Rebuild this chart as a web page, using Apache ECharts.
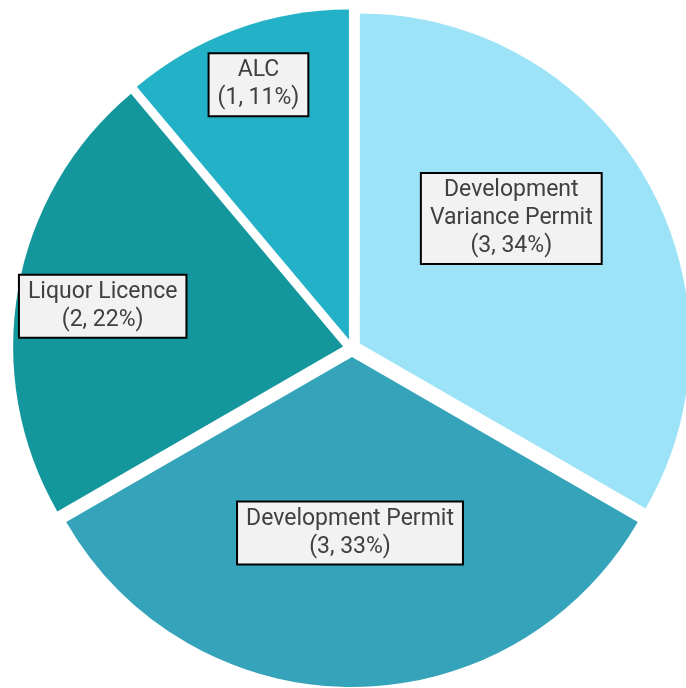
<!DOCTYPE html>
<html>
<head>
<meta charset="utf-8">
<script src="https://cdn.jsdelivr.net/npm/echarts@6/dist/echarts.min.js"></script>
<style>
html,body{margin:0;padding:0;background:#fff;}
#chart{width:686px;height:688px;}
</style>
</head>
<body>
<div id="chart"></div>
<script>
const categories = ['Development Variance Permit', 'Development Permit', 'Liquor Licence', 'ALC'];
const values = [3, 3, 2, 1];
const percentLabels = ['34%', '33%', '22%', '11%'];
const colors = ['#9de3f8', '#35a4ba', '#13979d', '#22b1c6'];
const labelOffsets = [[6, -41], [-2, 8], [-75, -11], [-33, -97]];

function wrap(text, maxChars) {
  const words = text.split(' ');
  const lines = [];
  let cur = '';
  words.forEach(w => {
    if (cur && (cur + ' ' + w).length > maxChars) { lines.push(cur); cur = w; }
    else { cur = cur ? cur + ' ' + w : w; }
  });
  if (cur) lines.push(cur);
  return lines.join('\n');
}

const chart = echarts.init(document.getElementById('chart'), null, {renderer: 'canvas'});
const data = categories.map((name, i) => ({
  name: name,
  value: values[i],
  selected: true,
  itemStyle: {color: colors[i]},
  select: {itemStyle: {color: colors[i]}}
}));

chart.setOption({
  animation: false,
  series: [{
    type: 'pie',
    center: [352, 348],
    radius: 330,
    startAngle: 90,
    clockwise: true,
    selectedMode: 'multiple',
    selectedOffset: 9,
    avoidLabelOverlap: false,
    itemStyle: {borderWidth: 0},
    labelLine: {show: false},
    emphasis: {disabled: true},
    label: {
      show: true,
      position: 'inside',
      formatter: p => wrap(p.name, 18) + '\n(' + p.value + ', ' + percentLabels[p.dataIndex] + ')',
      fontFamily: 'Roboto',
      fontSize: 23,
      lineHeight: 28,
      color: '#404040',
      align: 'center',
      backgroundColor: '#f2f2f2',
      borderColor: '#000',
      borderWidth: 2,
      padding: [3, 8, 2, 8]
    },
    labelLayout: p => ({dx: labelOffsets[p.dataIndex][0], dy: labelOffsets[p.dataIndex][1]}),
    data: data
  }]
});
</script>
</body>
</html>
